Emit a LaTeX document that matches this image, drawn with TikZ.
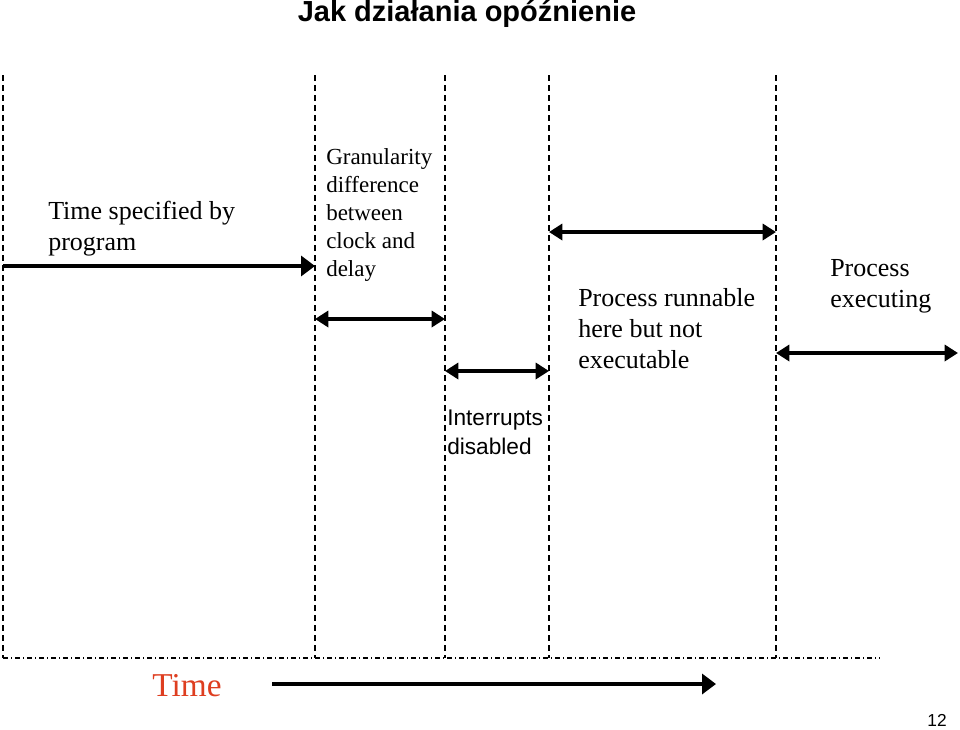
\documentclass[tikz,border=0pt]{standalone}
\usepackage{fontspec}
\setmainfont{Liberation Serif}
\setsansfont{Liberation Sans}
\usetikzlibrary{arrows.meta}
\definecolor{timered}{RGB}{222,62,32}

\tikzset{
  grid line/.style={line width=1.2pt, dash pattern=on 4.5pt off 3pt},
  base line/.style={line width=0.8pt, dash pattern=on 4pt off 2pt on 1pt off 2pt},
  span/.style={line width=3.4pt, {Triangle[length=10pt,width=12pt]}-{Triangle[length=10pt,width=12pt]}},
  onespan/.style={line width=3.4pt, -{Triangle[length=10.5pt,width=15pt]}},
  label/.style={anchor=north west, inner sep=0pt, align=left}
}

\begin{document}
\begin{tikzpicture}[x=0.75pt, y=-0.75pt]
\useasboundingbox (0,0) rectangle (960,729);

% time grid
\coordinate (t0) at (3,75);   \coordinate (b0) at (3,658);
\coordinate (t1) at (315,75); \coordinate (b1) at (315,658);
\coordinate (t2) at (445,75); \coordinate (b2) at (445,658);
\coordinate (t3) at (549,75); \coordinate (b3) at (549,658);
\coordinate (t4) at (776,75); \coordinate (b4) at (776,658);
\coordinate (bend) at (880,658);

\foreach \i in {0,...,4}
  \draw[grid line] (t\i) -- (b\i);
\draw[base line] (b0) -- (bend);

% arrow ends
\coordinate (spec0) at (3,266);   \coordinate (spec1) at (315,266);
\coordinate (gran0) at (315,319); \coordinate (gran1) at (445,319);
\coordinate (intr0) at (445,371); \coordinate (intr1) at (549,371);
\coordinate (runn0) at (549,232); \coordinate (runn1) at (776,232);
\coordinate (exec0) at (776,353); \coordinate (exec1) at (958,353);
\coordinate (time0) at (272,684); \coordinate (time1) at (716,684);

\draw[onespan] (spec0) -- (spec1);
\draw[span] (gran0) -- (gran1);
\draw[span] (intr0) -- (intr1);
\draw[span] (runn0) -- (runn1);
\draw[span] (exec0) -- (exec1);
\draw[onespan] (time0) -- (time1);

% texts
\node (title) at (467,14) {\fontsize{21.75}{26}\sffamily\bfseries Jak działania opóźnienie};
\node[label, font=\fontsize{19.5}{23.25}\selectfont] (spec) at (48,201) {Time specified by\\program};
\node[label, font=\fontsize{17.25}{21}\selectfont] (gran) at (326,148) {Granularity\\difference\\between\\clock and\\delay};
\node[label, font=\fontsize{17}{21.75}\sffamily] (intr) at (447,410) {Interrupts\\disabled};
\node[label, font=\fontsize{19.5}{23.25}\selectfont] (runn) at (578,288) {Process runnable\\here but not\\executable};
\node[label, font=\fontsize{19.5}{23.25}\selectfont] (exec) at (830,259) {Process\\executing};
\node[text=timered, font=\fontsize{25}{30}\selectfont] (time) at (187,686) {Time};
\node[font=\fontsize{13}{15}\sffamily] (page) at (937,720) {12};

\end{tikzpicture}
\end{document}
